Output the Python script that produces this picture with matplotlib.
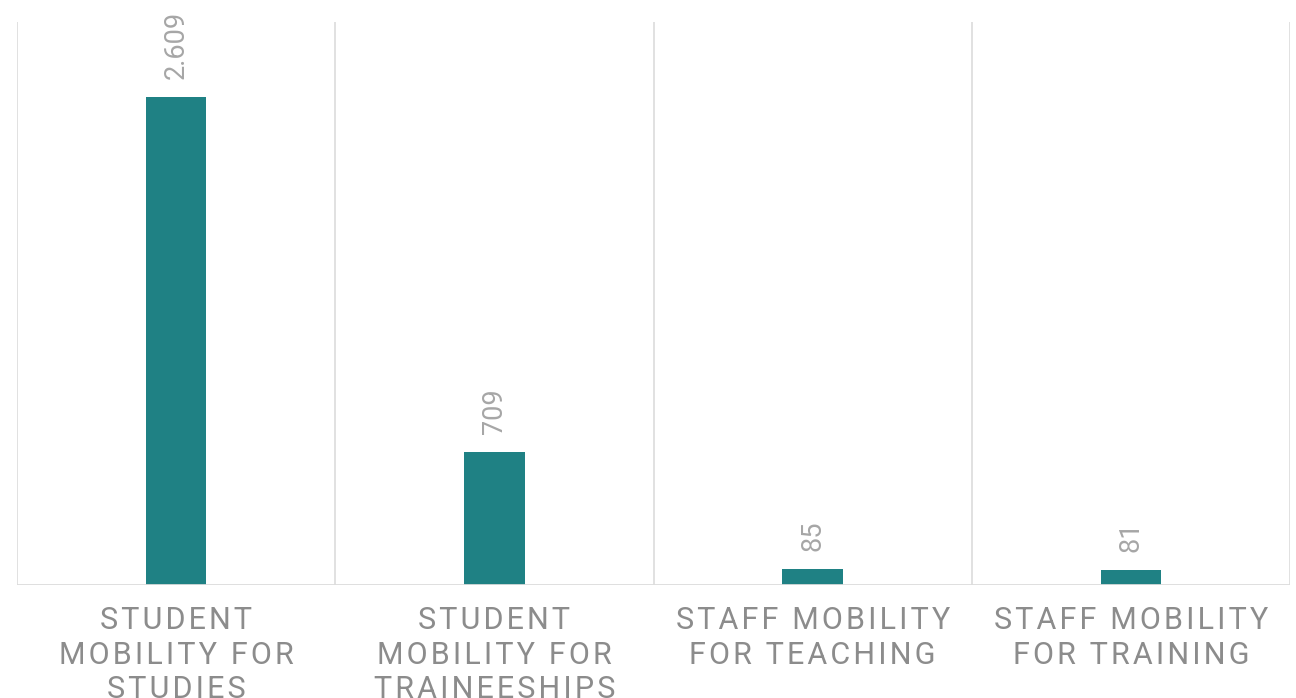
import matplotlib
matplotlib.use("Agg")
import matplotlib.pyplot as plt

categories = ["STUDENT\nMOBILITY FOR\nSTUDIES", "STUDENT\nMOBILITY FOR\nTRAINEESHIPS",
              "STAFF MOBILITY\nFOR TEACHING", "STAFF MOBILITY\nFOR TRAINING"]
values = [2609, 709, 85, 81]
value_labels = ["2.609", "709", "85", "81"]

bar_color = "#1f8184"
grid_color = "#dcdcdc"

plt.rcParams['font.family'] = ['Roboto', 'DejaVu Sans']


def spaced(s):
    # fake letter spacing with hair spaces
    return "\n".join("\u200a".join(line) for line in s.split("\n"))


fig = plt.figure(figsize=(12.96, 6.98), dpi=100)
ax = fig.add_axes([17/1296, 1 - 585/698, (1290-17)/1296, (585-22)/698])

x = list(range(len(values)))
ax.bar(x, values, width=0.19, color=bar_color, zorder=3)

ax.set_xlim(-0.5, len(values) - 0.5)
ax.set_ylim(0, 3010)

# vertical separators between categories
for b in [i - 0.5 for i in range(len(values) + 1)]:
    ax.axvline(b, color=grid_color, lw=1.2, zorder=1)
ax.axhline(0, color=grid_color, lw=2, zorder=4)

for xi, v, lab in zip(x, values, value_labels):
    ax.annotate(lab, (xi, v), xytext=(0, 13), textcoords="offset points",
                rotation=90, ha="center", va="bottom", fontsize=19.5, color="#a6a6a6")

ax.set_xticks(x)
ax.set_xticklabels([spaced(c) for c in categories], fontsize=22, color="#8c8c8c",
                   linespacing=1.25)
ax.tick_params(axis="x", length=0, pad=15)
ax.set_yticks([])
for s in ax.spines.values():
    s.set_visible(False)

fig.savefig("out.png", dpi=100)
